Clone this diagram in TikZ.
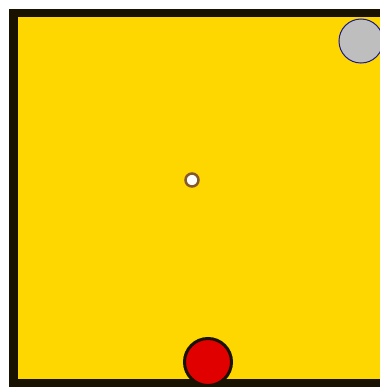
\documentclass[tikz,border=0pt]{standalone}
\usetikzlibrary{positioning}
\definecolor{boardyellow}{HTML}{FFD700}
\definecolor{edgeblack}{HTML}{1A1200}
\definecolor{ballred}{HTML}{E00000}
\definecolor{ballgrey}{HTML}{BEBEBE}
\definecolor{rimblue}{HTML}{1A1A8C}
\tikzset{
  ball/.style={circle, inner sep=0pt, draw},
}
\begin{document}
\begin{tikzpicture}[x=0.01cm, y=-0.01cm]
      % Fix the frame to the reference size
      \useasboundingbox (0,0) rectangle (380,387);
      \clip (0,0) rectangle (380,387);
      \fill[white] (0,0) rectangle (380,387);

      % Draw the board with its edge
      \draw[edgeblack, fill=boardyellow, line width=0.08cm] (13.5,13) rectangle (400,383);

      % Draw the balls
      \node[ball, fill=ballgrey, draw=rimblue, line width=0.01cm, minimum size=0.44cm] at (361,41) (grey) {};
      \node[ball, fill=ballred, draw=edgeblack, line width=0.03cm, minimum size=0.47cm] at (208,362) (red) {};
      \node[ball, fill=white, draw=brown!70!black, line width=0.025cm, minimum size=0.13cm] at (192,180) (centre) {};
    \end{tikzpicture}
\end{document}
